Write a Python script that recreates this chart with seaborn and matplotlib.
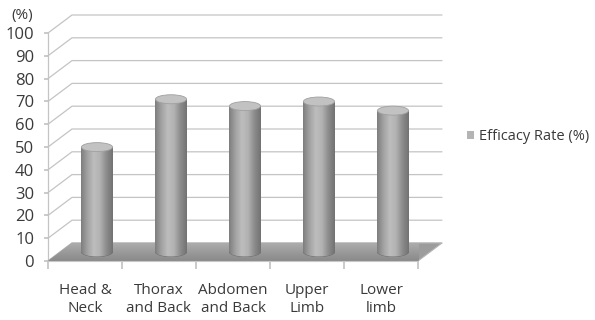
import numpy as np
import pandas as pd
import matplotlib
matplotlib.use("Agg")
import matplotlib.pyplot as plt
import seaborn as sns
from matplotlib.patches import Polygon, Ellipse, Patch
from matplotlib.transforms import offset_copy
from matplotlib.colors import LinearSegmentedColormap

categories = ["Head &\nNeck", "Thorax\nand Back", "Abdomen\nand Back", "Upper\nLimb", "Lower\nlimb"]
values = [46, 67, 64, 66, 62]
y_ticks = [0, 10, 20, 30, 40, 50, 60, 70, 80, 90, 100]
series_name = "Efficacy Rate (%)"

sns.set_theme(style="white")
plt.rcParams["font.family"] = ["Open Sans", "DejaVu Sans"]
TXT = "#3a3a3a"
GRID = "#c4c4c4"

W, H = 595, 320
fig = plt.figure(figsize=(W / 100, H / 100), dpi=100)
L, R, B, T = 48, 418, 261, 33
ax = fig.add_axes([L / W, 1 - B / H, (R - L) / W, (B - T) / H])

df = pd.DataFrame({"cat": categories, "val": values})
sns.barplot(data=df, x="cat", y="val", width=0.42, color="#a8a8a8",
            saturation=1, ax=ax, zorder=5)
ax.set_xlim(-0.5, len(categories) - 0.5)
ax.set_ylim(0, 100)

# depth offsets (pixels) -> data units
BACK_PX = (24, 18)
px_per_x = (R - L) / len(categories)
px_per_y = (B - T) / 100.0
dx = BACK_PX[0] / px_per_x
dy = BACK_PX[1] / px_per_y
mid = offset_copy(ax.transData, fig=fig, x=BACK_PX[0] / 2, y=BACK_PX[1] / 2, units="dots")

x0, x1 = -0.5, len(categories) - 0.5
# back wall + side wall grid
for t in y_ticks:
    ax.plot([x0, x0 + dx, x1 + dx], [t, t + dy, t + dy], color=GRID, lw=0.9,
            clip_on=False, zorder=1)
ax.plot([x0, x0], [0, 100], color=GRID, lw=0.9, clip_on=False, zorder=1)

# floor
floor = Polygon([(x0, 0), (x1, 0), (x1 + dx, dy), (x0 + dx, dy)], closed=True,
                facecolor="#9c9c9c", edgecolor="#b5b5b5", lw=0.8, clip_on=False, zorder=2)
ax.add_patch(floor)
fgrad = np.linspace(0, 1, 50).reshape(-1, 1)
fcmap = LinearSegmentedColormap.from_list("f", ["#8a8a8a", "#9a9a9a", "#acacac"])
fim = ax.imshow(fgrad, extent=[x0, x1 + dx, 0, dy], origin="lower", cmap=fcmap,
                aspect="auto", zorder=2.5)
fim.set_clip_path(floor)
fim.set_clip_box(None)

# cylinders
cyl = LinearSegmentedColormap.from_list("c", ["#7e7e7e", "#a2a2a2", "#bdbdbd", "#b2b2b2", "#8c8c8c", "#727272"])
grad = np.linspace(0, 1, 100).reshape(1, -1)
ell_h = 9 / px_per_y
for p in list(ax.patches):
    if p is floor:
        continue
    p.set_transform(mid)
    p.set_edgecolor("none")
    bx, bw, bh = p.get_x(), p.get_width(), p.get_height()
    cx = bx + bw / 2
    bot = Ellipse((cx, 0), bw, ell_h, transform=mid, facecolor="#8a8a8a",
                  edgecolor="#6a6a6a", lw=0.6, zorder=4)
    ax.add_patch(bot)
    for clip, z in ((bot, 4.5), (p, 5.5)):
        im = ax.imshow(grad, extent=[bx, bx + bw, -ell_h, bh], cmap=cyl,
                       aspect="auto", zorder=z)
        im.set_transform(mid)
        im.set_clip_path(clip)
    top = Ellipse((cx, bh), bw, ell_h, transform=mid, facecolor="#c2c2c2",
                  edgecolor="#a0a0a0", lw=0.6, zorder=6)
    ax.add_patch(top)

ax.set_xlim(x0, x1)
ax.set_ylim(0, 100)

# axes styling
for s in ["top", "right", "bottom", "left"]:
    ax.spines[s].set_visible(False)
ax.set_yticks(y_ticks)
ax.set_yticklabels([str(t) for t in y_ticks], color=TXT, fontsize=12)
ax.tick_params(axis="y", left=True, length=3, color=GRID, pad=7)
ax.set_xticks(np.arange(len(categories) + 1) - 0.5)
ax.set_xticklabels([])
ax.tick_params(axis="x", bottom=True, length=6, color=GRID, direction="out")
ax.set_xticks(np.arange(len(categories)), minor=True)
ax.set_xticklabels(categories, minor=True, color=TXT, fontsize=11, linespacing=1.25)
ax.tick_params(axis="x", which="minor", length=0, pad=16)
ax.plot([x0, x1], [0, 0], color="#c8c8c8", lw=0.8, clip_on=False, zorder=3)
ax.set_xlabel("")
ax.set_ylabel("")
ax.grid(False)
ax.set_facecolor("none")

fig.text(22 / W, 1 - 16 / H, "(%)", color=TXT, fontsize=11, ha="center", va="center")

fig.legend(handles=[Patch(facecolor="#b4b4b4", edgecolor="none", label=series_name)],
           loc="center left", bbox_to_anchor=(467 / W, 1 - 137 / H), frameon=False,
           handlelength=0.5, handleheight=0.5, handletextpad=0.3,
           fontsize=10.5, labelcolor=TXT, borderaxespad=0, borderpad=0)

fig.savefig("out.png", dpi=100)
